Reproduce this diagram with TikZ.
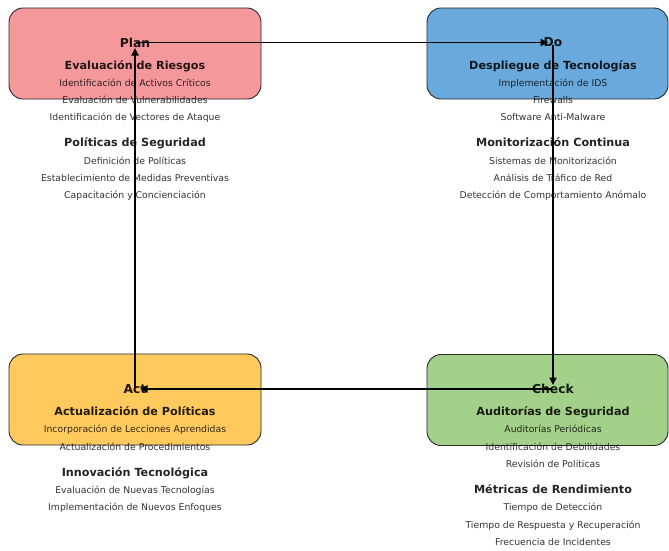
\documentclass[tikz,border=0pt]{standalone}
\usepackage{fontspec}
\setmainfont{DejaVu Sans}
\usetikzlibrary{arrows.meta}
\definecolor{planfill}{RGB}{244,152,156}
\definecolor{dofill}{RGB}{106,169,219}
\definecolor{actfill}{RGB}{254,202,94}
\definecolor{checkfill}{RGB}{164,209,137}
\definecolor{edge}{RGB}{40,40,40}
\tikzset{
  phasebox/.style={draw=edge, line width=0.9pt, rounded corners=14pt, inner sep=0pt},
  phasetitle/.style={font=\fontsize{12.3}{14}\selectfont\bfseries, text=black, text opacity=0.88, inner sep=0pt},
  subhead/.style={font=\fontsize{11.2}{13}\selectfont\bfseries, text=black, text opacity=0.86, inner sep=0pt, anchor=base},
  itemtxt/.style={font=\fontsize{9.3}{11}\selectfont, text=black, text opacity=0.8, inner sep=0pt, anchor=base},
  cyc/.style={line width=1.8pt, draw=black, -{Triangle[length=7.5pt,width=7pt]}}
}
\begin{document}
\begin{tikzpicture}[x=1pt,y=-1pt]
\useasboundingbox (0,0) rectangle (669,550);
% boxes
\node[phasebox, fill=planfill, minimum width=252pt, minimum height=91pt] (planbox) at (135,53.5) {};
\node[phasebox, fill=dofill, minimum width=241pt, minimum height=91pt] (dobox) at (547.5,53.5) {};
\node[phasebox, fill=actfill, minimum width=252pt, minimum height=91pt] (actbox) at (135,399.5) {};
\node[phasebox, fill=checkfill, minimum width=241pt, minimum height=91pt] (checkbox) at (547.5,400) {};
% Plan
\node[phasetitle] (plan) at (135,42.5) {Plan};
\node[subhead] (p1) at (135,69) {Evaluación de Riesgos};
\node[itemtxt] (p2) at (135,86) {Identificación de Activos Críticos};
\node[itemtxt] (p3) at (135,103.4) {Evaluación de Vulnerabilidades};
\node[itemtxt] (p4) at (135,120.8) {Identificación de Vectores de Ataque};
\node[subhead] (p5) at (135,146.6) {Políticas de Seguridad};
\node[itemtxt] (p6) at (135,164) {Definición de Políticas};
\node[itemtxt] (p7) at (135,181.4) {Establecimiento de Medidas Preventivas};
\node[itemtxt] (p8) at (135,198.8) {Capacitación y Concienciación};
% Do
\node[phasetitle] (do) at (553,42.5) {Do};
\node[subhead] (d1) at (553,69) {Despliegue de Tecnologías};
\node[itemtxt] (d2) at (553,86) {Implementación de IDS};
\node[itemtxt] (d3) at (553,103.4) {Firewalls};
\node[itemtxt] (d4) at (553,120.8) {Software Anti-Malware};
\node[subhead] (d5) at (553,146.6) {Monitorización Continua};
\node[itemtxt] (d6) at (553,164) {Sistemas de Monitorización};
\node[itemtxt] (d7) at (553,181.4) {Análisis de Tráfico de Red};
\node[itemtxt] (d8) at (553,198.8) {Detección de Comportamiento Anómalo};
% Check
\node[phasetitle] (check) at (553,389) {Check};
\node[subhead] (c1) at (553,415.5) {Auditorías de Seguridad};
\node[itemtxt] (c2) at (553,432.8) {Auditorías Periódicas};
\node[itemtxt] (c3) at (553,450.2) {Identificación de Debilidades};
\node[itemtxt] (c4) at (553,467.6) {Revisión de Políticas};
\node[subhead] (c5) at (553,493.4) {Métricas de Rendimiento};
\node[itemtxt] (c6) at (553,510.8) {Tiempo de Detección};
\node[itemtxt] (c7) at (553,528.2) {Tiempo de Respuesta y Recuperación};
\node[itemtxt] (c8) at (553,545.6) {Frecuencia de Incidentes};
% Act
\node[phasetitle] (act) at (135,389) {Act};
\node[subhead] (a1) at (135,415.5) {Actualización de Políticas};
\node[itemtxt] (a2) at (135,432.8) {Incorporación de Lecciones Aprendidas};
\node[itemtxt] (a3) at (135,450.2) {Actualización de Procedimientos};
\node[subhead] (a4) at (135,476) {Innovación Tecnológica};
\node[itemtxt] (a5) at (135,493.4) {Evaluación de Nuevas Tecnologías};
\node[itemtxt] (a6) at (135,510.8) {Implementación de Nuevos Enfoques};
% cycle arrows
\draw[cyc, shorten <=1pt, shorten >=5pt] (plan.center) -- (do.center);
\draw[cyc, shorten <=2pt, shorten >=4pt] (do.center) -- (check.center);
\draw[cyc, shorten <=1pt, shorten >=5pt] (check.center) -- (act.center);
\draw[cyc, shorten <=1pt, shorten >=5.5pt] (act.center) -- (plan.center);
\end{tikzpicture}
\end{document}
